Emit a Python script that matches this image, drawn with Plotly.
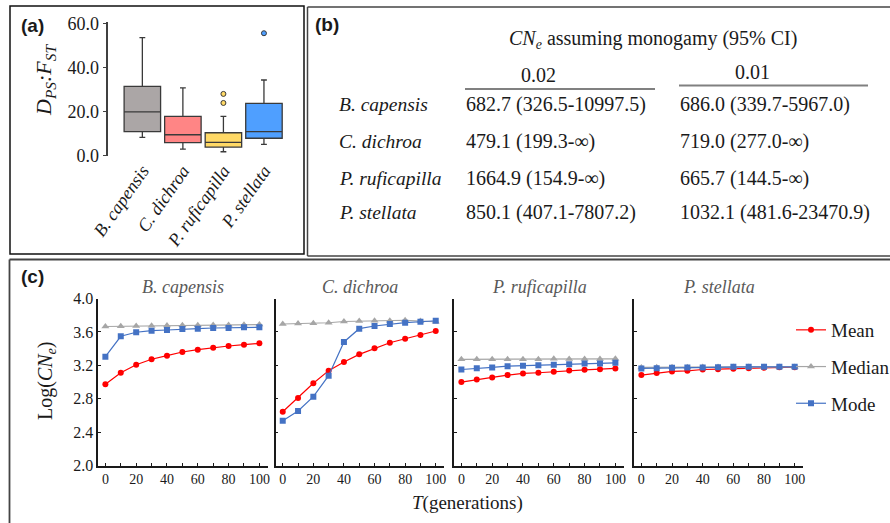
import plotly.graph_objects as go

W, H = 890, 523
def X(px): return px / W
def Y(py): return 1 - py / H

SERIF = "Liberation Serif"
SANS = "Liberation Sans"

# ---------------- Panel (a) data ----------------
species = ["B. capensis", "C. dichroa", "P. ruficapilla", "P. stellata"]
box_lower = [8.3, 3.0, 1.8, 5.1]
box_q1 = [10.9, 5.9, 3.9, 7.9]
box_median = [19.9, 9.5, 6.0, 10.9]
box_q3 = [31.4, 17.8, 10.4, 23.7]
box_upper = [53.5, 30.7, 17.8, 34.3]
box_colors = ["#aba6a6", "#ff8585", "#ffd966", "#4f9fff"]
outlier_species = ["P. ruficapilla", "P. ruficapilla", "P. stellata"]
outlier_values = [28.0, 23.9, 55.5]
outlier_colors = ["#ffd966", "#ffd966", "#4f9fff"]

# ---------------- Panel (b) data ----------------
table_title = "<i>CN</i><sub><i>e</i></sub> assuming monogamy (95% CI)"
table_cols = ["0.02", "0.01"]
col_002 = ["682.7 (326.5-10997.5)", "479.1 (199.3-∞)", "1664.9 (154.9-∞)", "850.1 (407.1-7807.2)"]
col_001 = ["686.0 (339.7-5967.0)", "719.0 (277.0-∞)", "665.7 (144.5-∞)", "1032.1 (481.6-23470.9)"]

# ---------------- Panel (c) data ----------------
T = [0, 10, 20, 30, 40, 50, 60, 70, 80, 90, 100]
bc_mean = [2.974, 3.112, 3.208, 3.273, 3.316, 3.36, 3.388, 3.412, 3.432, 3.448, 3.464]
bc_median = [3.665, 3.668, 3.672, 3.675, 3.677, 3.679, 3.681, 3.683, 3.684, 3.686, 3.688]
bc_mode = [3.304, 3.548, 3.596, 3.615, 3.623, 3.635, 3.639, 3.647, 3.647, 3.655, 3.655]
cd_mean = [2.646, 2.81, 2.986, 3.137, 3.24, 3.332, 3.404, 3.471, 3.519, 3.563, 3.611]
cd_median = [3.695, 3.70, 3.705, 3.71, 3.725, 3.73, 3.733, 3.733, 3.74, 3.73, 3.722]
cd_mode = [2.538, 2.654, 2.826, 3.077, 3.48, 3.639, 3.671, 3.695, 3.711, 3.722, 3.734]
pr_mean = [3.0, 3.032, 3.056, 3.084, 3.104, 3.112, 3.124, 3.14, 3.147, 3.155, 3.163]
pr_median = [3.272, 3.272, 3.272, 3.272, 3.272, 3.272, 3.28, 3.275, 3.275, 3.275, 3.278]
pr_mode = [3.151, 3.167, 3.175, 3.19, 3.195, 3.203, 3.207, 3.215, 3.223, 3.223, 3.231]
ps_mean = [3.084, 3.108, 3.128, 3.135, 3.151, 3.155, 3.159, 3.167, 3.171, 3.179, 3.179]
ps_median = [3.176, 3.178, 3.179, 3.179, 3.18, 3.18, 3.181, 3.181, 3.181, 3.182, 3.182]
ps_mode = [3.163, 3.167, 3.171, 3.175, 3.175, 3.179, 3.183, 3.183, 3.183, 3.183, 3.183]
series_names = ["Mean", "Median", "Mode"]
series_colors = ["#ff0000", "#a6a6a6", "#4472c4"]
series_symbols = ["circle", "triangle-up", "square"]
series_sizes = [6, 7, 6]
panel_data = [
    (bc_mean, bc_median, bc_mode),
    (cd_mean, cd_median, cd_mode),
    (pr_mean, pr_median, pr_mode),
    (ps_mean, ps_median, ps_mode),
]

fig = go.Figure()

# ---- boxes
for i, sp in enumerate(species):
    fig.add_trace(go.Box(
        x=[sp], q1=[box_q1[i]], median=[box_median[i]], q3=[box_q3[i]],
        lowerfence=[box_lower[i]], upperfence=[box_upper[i]],
        fillcolor=box_colors[i], line=dict(color="#3a3a3a", width=1.3),
        width=0.9, whiskerwidth=0.16, boxpoints=False, showlegend=False,
        xaxis="x", yaxis="y", hoverinfo="skip"))
fig.add_trace(go.Scatter(
    x=outlier_species, y=outlier_values, mode="markers",
    marker=dict(size=5, color=outlier_colors, line=dict(color="#3a3a3a", width=1)),
    showlegend=False, xaxis="x", yaxis="y", hoverinfo="skip"))

# ---- panel c lines
for p, data in enumerate(panel_data):
    ax = str(p + 2)
    for s in range(3):
        fig.add_trace(go.Scatter(
            x=T, y=data[s], mode="lines+markers", name=series_names[s],
            line=dict(color=series_colors[s], width=1.2),
            marker=dict(symbol=series_symbols[s], size=series_sizes[s], color=series_colors[s]),
            showlegend=(p == 0), legendgroup=series_names[s],
            xaxis="x" + ax, yaxis="y" + ax, hoverinfo="skip"))

layout = dict(
    width=W, height=H, autosize=False,
    margin=dict(l=0, r=0, t=0, b=0, autoexpand=False),
    paper_bgcolor="white", plot_bgcolor="rgba(0,0,0,0)",
    font=dict(family=SERIF, color="#1a1a1a"),
    showlegend=True,
    legend=dict(x=X(791), y=Y(311), xanchor="left", yanchor="top",
                font=dict(family=SERIF, size=19, color="#1a1a1a"),
                tracegroupgap=9, itemwidth=30, bgcolor="rgba(0,0,0,0)"),
    xaxis=dict(domain=[X(108.3), X(298)], type="category", range=[-0.84, 3.84],
               showline=False, ticks="", showgrid=False, zeroline=False,
               tickangle=-55, tickvals=species,
               ticktext=["<i>" + s + "</i>" for s in species],
               tickfont=dict(family=SERIF, size=18, color="#1a1a1a"), anchor="y"),
    yaxis=dict(domain=[Y(155.7), Y(21.7)], range=[0, 60.72], showline=True,
               linecolor="#404040", linewidth=1.5, ticks="outside", ticklen=4,
               tickcolor="#404040", tickvals=[0, 20, 40, 60], tickformat=".1f",
               showgrid=False, zeroline=False, anchor="x",
               tickfont=dict(family=SERIF, size=18, color="#1a1a1a")),
)

xdomains = [(98.3, 268), (275.7, 444.3), (454.3, 624), (634.3, 803.3)]
for p in range(4):
    ax = str(p + 2)
    layout["xaxis" + ax] = dict(
        domain=[X(xdomains[p][0]), X(xdomains[p][1])], range=[-4.6, 105.6],
        showline=True, linecolor="#1a1a1a", linewidth=1.5, ticks="inside",
        ticklen=3, tickcolor="#1a1a1a", tickvals=[0, 20, 40, 60, 80, 100],
        minor=dict(tickvals=[10, 30, 50, 70, 90], ticks="inside", ticklen=3, tickcolor="#1a1a1a"),
        showgrid=False, zeroline=False, anchor="y" + ax,
        tickfont=dict(family=SERIF, size=14, color="#1a1a1a"))
    layout["yaxis" + ax] = dict(
        domain=[Y(465.7), Y(298.5)], range=[2.0, 4.0], showline=True,
        linecolor="#1a1a1a", linewidth=1.5, ticks="inside", ticklen=3,
        tickcolor="#1a1a1a", tickvals=[2.0, 2.4, 2.8, 3.2, 3.6, 4.0],
        tickformat=".1f", showticklabels=(p == 0), showgrid=False,
        zeroline=False, anchor="x" + ax,
        tickfont=dict(family=SERIF, size=16, color="#1a1a1a"))

fig.update_layout(**layout)

# ---- panel borders (kept inside the page)
def hline(x0, x1, y, color, width):
    return dict(type="line", xref="paper", yref="paper", x0=X(x0), x1=X(x1),
                y0=Y(y), y1=Y(y), line=dict(color=color, width=width))
def vline(x, y0, y1, color, width):
    return dict(type="line", xref="paper", yref="paper", x0=X(x), x1=X(x),
                y0=Y(y0), y1=Y(y1), line=dict(color=color, width=width))

shapes = [
    dict(type="rect", xref="paper", yref="paper", x0=X(10), x1=X(304), y0=Y(254), y1=Y(6),
         line=dict(color="#111111", width=1.5)),
    hline(307.5, 890, 7, "#444444", 1.5),
    hline(307.5, 890, 256, "#444444", 1.5),
    vline(307.5, 7, 256, "#444444", 1.5),
    hline(9.5, 890, 259.5, "#444444", 1.8),
    vline(9.5, 259.5, 523, "#444444", 1.8),
    hline(465, 655, 89, "#808080", 2),
    hline(679, 868, 85.5, "#808080", 2),
]
fig.update_layout(shapes=shapes)

ann = []
def txt(text, x, y, size, xanchor="center", family=SERIF, color="#1a1a1a", angle=0):
    ann.append(dict(text=text, x=X(x), y=Y(y), xref="paper", yref="paper",
                    xanchor=xanchor, yanchor="middle", showarrow=False,
                    textangle=angle, font=dict(family=family, size=size, color=color)))

# panel labels
txt("<b>(a)</b>", 32, 25, 19, family=SANS)
txt("<b>(b)</b>", 327, 24, 19, family=SANS)
txt("<b>(c)</b>", 32, 276, 19, family=SANS)

# panel a y title
txt("<i>D</i><sub><i>PS</i></sub><i>:F</i><sub><i>ST</i></sub>", 45, 80, 22, angle=-90)

# table
txt(table_title, 653, 40, 20)
txt(table_cols[0], 538, 75, 20)
txt(table_cols[1], 752, 72, 20)
row_y = [104, 141, 178, 213]
for i, sp in enumerate(species):
    txt("<i>" + sp + "</i>", 337, row_y[i], 19.5, xanchor="left")
    txt(col_002[i], 464, row_y[i], 20, xanchor="left")
    txt(col_001[i], 678, row_y[i], 20, xanchor="left")

# panel c titles
for p in range(4):
    cx = (xdomains[p][0] + xdomains[p][1]) / 2
    txt("<i>" + species[p] + "</i>", cx, 287, 18, color="#595959")
txt("Log(<i>CN</i><sub><i>e</i></sub>)", 46, 381, 20, angle=-90)
txt("<i>T</i>(generations)", 467, 503, 19)

fig.update_layout(annotations=ann)
fig.write_html("out.html")
